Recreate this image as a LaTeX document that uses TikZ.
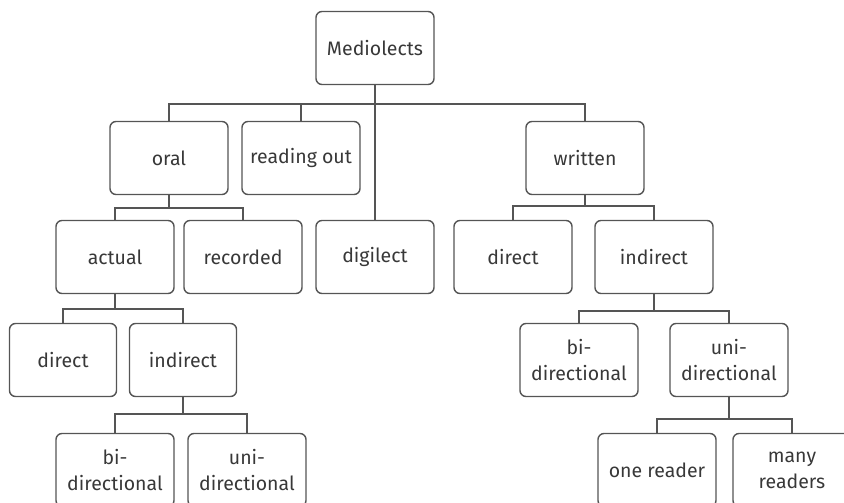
\documentclass[tikz,border=0pt]{standalone}
\usepackage{fontspec}
\setmainfont{Fira Sans}
\usepackage{tikz}
\usetikzlibrary{positioning}
\definecolor{boxline}{HTML}{555555}
\definecolor{boxtext}{HTML}{383838}

\begin{document}
\begin{tikzpicture}[x=1pt,y=-1pt,
  cat/.style={rounded corners=6pt,draw=boxline,line width=1.4pt,minimum width=118pt,minimum height=73pt,
    text=boxtext,font=\fontsize{19.5}{26}\selectfont,align=center,inner sep=1pt},
  narrow/.style={cat,minimum width=107pt},
  link/.style={draw=boxline,line width=1.4pt}]

\useasboundingbox (0,0) rectangle (844,503);

\node[cat] (med) at (375,48) {Mediolects};

\node[cat] (oral) at (169,158) {oral};
\node[cat] (read) at (301,158) {reading out};
\node[cat] (written) at (585,158) {written};

\node[cat] (actual) at (115,257) {actual};
\node[cat] (recorded) at (243,257) {recorded};
\node[cat] (dig) at (375,257) {digilect};
\node[cat] (wdir) at (513,257) {direct};
\node[cat] (wind) at (654,257) {indirect};

\node[narrow] (odir) at (63,360) {direct};
\node[narrow] (oind) at (183,360) {indirect};
\node[cat] (wbi) at (579,360) {bi-\\directional};
\node[cat] (wuni) at (729,360) {uni-\\directional};

\node[cat] (obi) at (115,470) {bi-\\directional};
\node[cat] (ouni) at (247,470) {uni-\\directional};
\node[cat] (one) at (657,470) {one reader};
\node[cat] (many) at (792,470) {many\\readers};

% bar levels
\coordinate (y0) at (0,104);
\coordinate (y1) at (0,208);
\coordinate (y2) at (0,309);
\coordinate (y3) at (0,414);
\coordinate (y4) at (0,206);
\coordinate (y5) at (0,311);
\coordinate (y6) at (0,419);

\draw[link] (med.south) -- (dig.north);
\foreach \c in {oral,read,written}{\draw[link] (med.south |- y0) -| (\c.north);}
\foreach \c in {actual,recorded}{\draw[link] (oral.south) -- (oral.south |- y1) -| (\c.north);}
\foreach \c in {odir,oind}{\draw[link] (actual.south) -- (actual.south |- y2) -| (\c.north);}
\foreach \c in {obi,ouni}{\draw[link] (oind.south) -- (oind.south |- y3) -| (\c.north);}
\foreach \c in {wdir,wind}{\draw[link] (written.south) -- (written.south |- y4) -| (\c.north);}
\foreach \c in {wbi,wuni}{\draw[link] (wind.south) -- (wind.south |- y5) -| (\c.north);}
\foreach \c in {one,many}{\draw[link] (wuni.south) -- (wuni.south |- y6) -| (\c.north);}

\end{tikzpicture}
\end{document}
